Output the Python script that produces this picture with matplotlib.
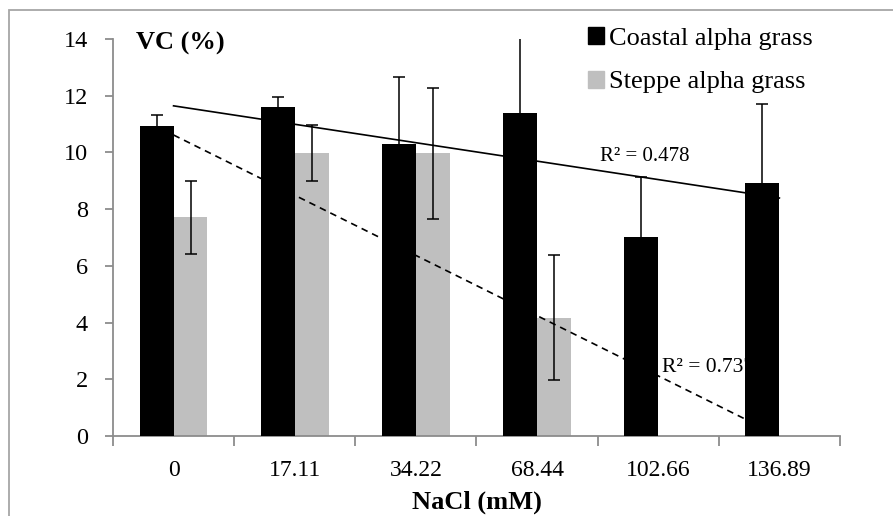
import matplotlib
matplotlib.use('Agg')
import matplotlib.pyplot as plt
import numpy as np
from matplotlib.patches import Patch, Rectangle

plt.rcParams['font.family'] = ['Liberation Serif', 'DejaVu Serif']

nacl_labels = ['0', '17.11', '34.22', '68.44', '102.66', '136.89']
coastal = [10.93, 11.59, 10.29, 11.38, 7.01, 8.91]
coastal_err = [0.39, 0.35, 2.36, 3.0, 2.13, 2.80]
steppe = [7.71, 9.99, 9.97, 4.17, 0.0, 0.0]
steppe_err = [1.30, 0.98, 2.30, 2.20, 0.0, 0.0]
r2_labels = ['R² = 0.478', 'R² = 0.737']

_gray_bar = '#bfbfbf'
_axis_gray = '#8c8c8c'

x = np.arange(len(nacl_labels))
w = 0.28

fig = plt.figure(figsize=(8.93, 5.16), dpi=100)
ax = fig.add_axes([0.1265, 0.155, 0.8141, 0.7694])

st = np.array(steppe)
ste = np.array(steppe_err)
has = st > 0
ax.bar(x[has] + w/2, st[has], w, color=_gray_bar, zorder=1)
ax.errorbar(x[has] + w/2, st[has], yerr=ste[has], fmt='none', ecolor='black',
            elinewidth=1.1, capsize=4.5, capthick=1.1, zorder=1.5)

# linear trendlines (Excel style, over categories 1..6, blanks as zero)
xs = np.arange(1, len(x) + 1)
for vals, ls in [(coastal, '-'), (steppe, (0, (4, 3)))]:
    k, b = np.polyfit(xs, vals, 1)
    ax.plot(x, k*xs + b, color='black', lw=1.2, linestyle=ls, zorder=2)

ax.bar(x - w/2, coastal, w, color='black', zorder=3)
ax.errorbar(x - w/2, coastal, yerr=coastal_err, fmt='none', ecolor='black',
            elinewidth=1.1, capsize=4.5, capthick=1.1, zorder=3.5)

ax.text(3.89, 9.84, r2_labels[0], fontsize=15, ha='center', va='center', zorder=2.5)
ax.text(4.03, 2.40, r2_labels[1], fontsize=15.5, ha='left', va='center', zorder=2.5)

ax.text(-0.31, 13.85, 'VC (%)', fontsize=19, fontweight='bold', ha='left', va='center')

ax.set_xlim(-0.5, 5.5)
ax.set_ylim(0, 14)
ax.set_yticks(range(0, 15, 2))
ax.set_xticks(np.arange(-0.5, 6, 1))
ax.set_xticklabels([])
ax.set_xticks(x, minor=True)
ax.set_xticklabels(nacl_labels, minor=True)
ax.tick_params(axis='x', which='major', length=7, color=_axis_gray, width=1.3)
ax.tick_params(axis='x', which='minor', length=0, pad=17, labelsize=17)
ax.tick_params(axis='y', length=6, color=_axis_gray, width=1.3, pad=12, labelsize=17.5)
for s in ['top', 'right']:
    ax.spines[s].set_visible(False)
for s in ['left', 'bottom']:
    ax.spines[s].set_color(_axis_gray)
    ax.spines[s].set_linewidth(1.3)

fig.text(476.5/893, 1 - 502/516, 'NaCl (mM)', fontsize=19, fontweight='bold', ha='center', va='center')

handles = [Patch(color='black'), Patch(color=_gray_bar)]
fig.legend(handles, ['Coastal alpha grass', 'Steppe alpha grass'], loc='upper left',
           bbox_to_anchor=(588/893, 1 - 27/516), frameon=False, fontsize=19,
           handlelength=0.6, handleheight=0.6, handletextpad=0.2, labelspacing=0.8,
           borderpad=0, borderaxespad=0)

fig.patches.append(Rectangle((9/893, -0.2), 1.2, 1.2 - 10/516, transform=fig.transFigure,
                             fill=False, edgecolor='#a6a6a6', lw=1.3))

plt.savefig('out.png', dpi=100)
